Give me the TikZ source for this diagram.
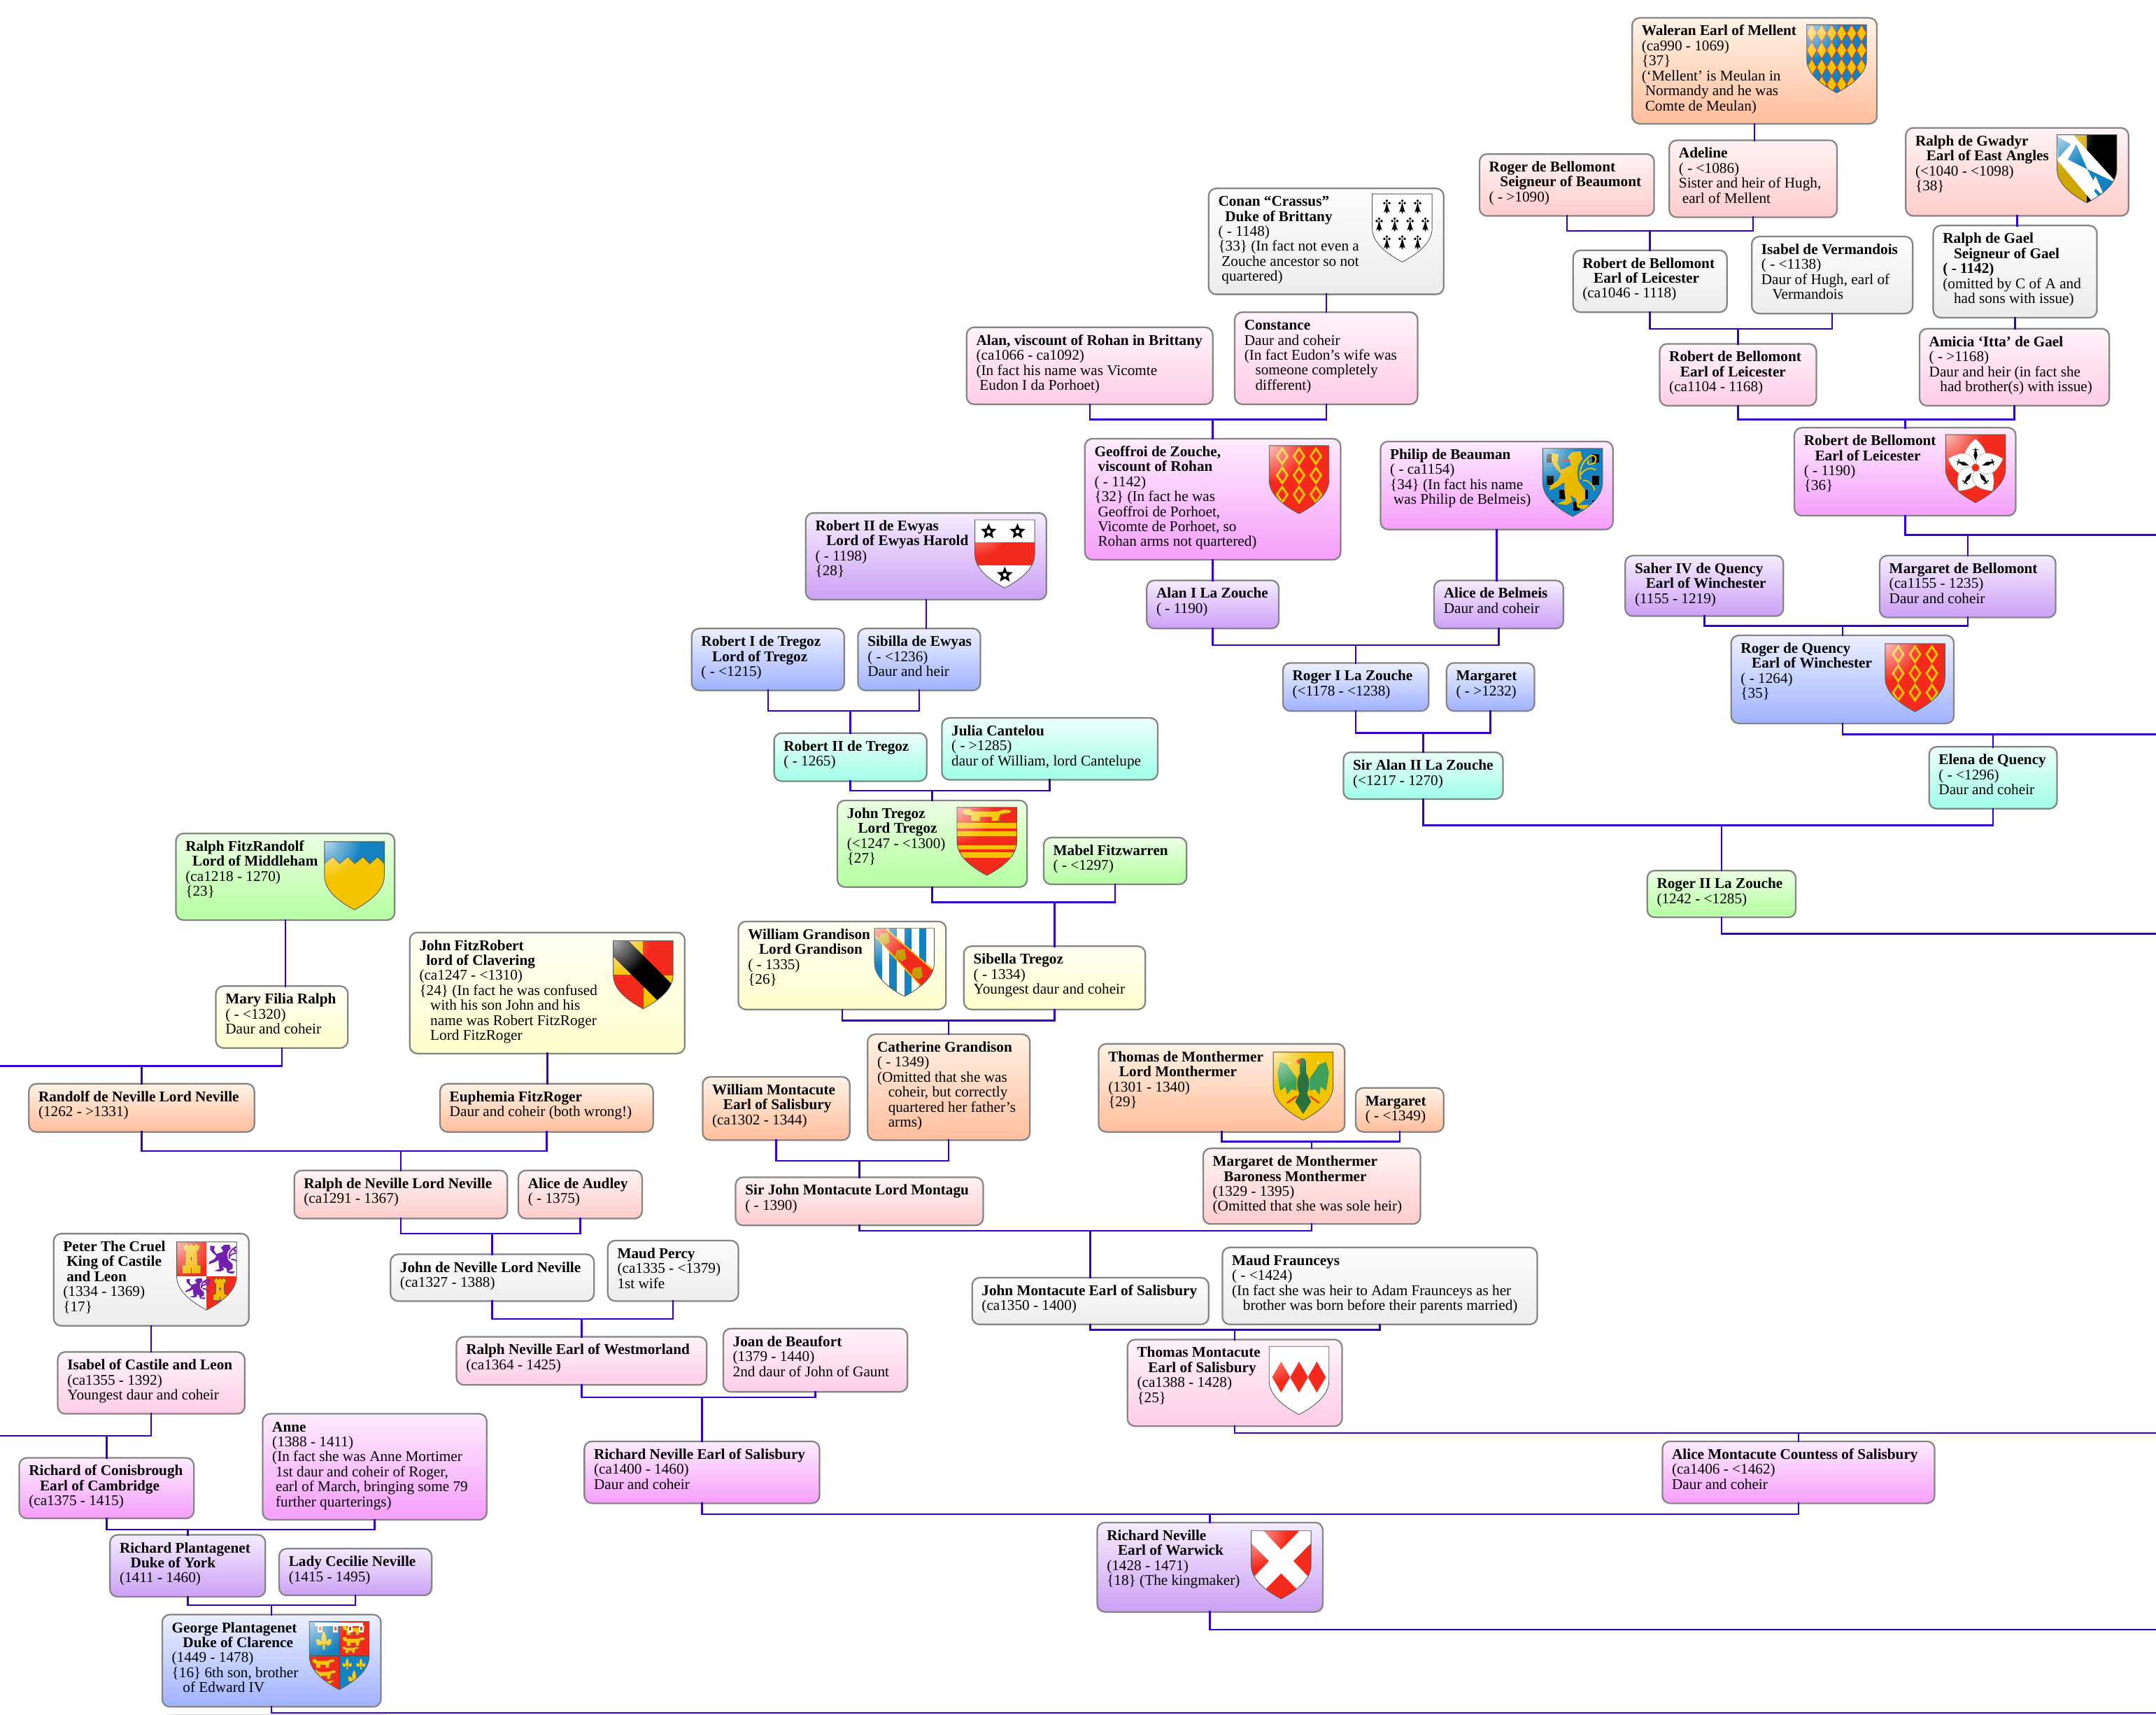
\documentclass[tikz,border=0pt]{standalone}
\usepackage{fontspec}
\setmainfont{Liberation Serif}
\usetikzlibrary{fadings}
\pgfdeclarelayer{shadowlayer}
\pgfsetlayers{shadowlayer,main}
\definecolor{lnk}{HTML}{3300CC}
\definecolor{gld}{HTML}{F5C400}
\definecolor{rd}{HTML}{F42A1C}
\definecolor{blu}{HTML}{1482C0}
\definecolor{prp}{HTML}{7A22B8}
\definecolor{grn}{HTML}{3EA05A}
\tikzfading[name=glossf, inner color=transparent!30, outer color=transparent!100]
\tikzset{
 box/.style={draw=black!48,line width=1.15pt,rounded corners=5.5pt,inner xsep=7pt,inner ysep=4pt,outer sep=0pt,
   font=\fontsize{10.8}{10.9}\selectfont,text=black},
 cOr/.style={top color=white!90!orange,bottom color={rgb,255:red,255;green,190;blue,156}},
 cPk/.style={top color={rgb,255:red,255;green,243;blue,243},bottom color={rgb,255:red,255;green,204;blue,204}},
 cRo/.style={top color={rgb,255:red,255;green,243;blue,250},bottom color={rgb,255:red,255;green,204;blue,230}},
 cGy/.style={top color={rgb,255:red,253;green,253;blue,253},bottom color={rgb,255:red,236;green,236;blue,236}},
 cMg/.style={top color={rgb,255:red,254;green,236;blue,255},bottom color={rgb,255:red,245;green,158;blue,250}},
 cPu/.style={top color={rgb,255:red,245;green,236;blue,255},bottom color={rgb,255:red,204;green,160;blue,245}},
 cBl/.style={top color={rgb,255:red,236;green,240;blue,255},bottom color={rgb,255:red,160;green,178;blue,255}},
 cCy/.style={top color={rgb,255:red,236;green,255;blue,250},bottom color={rgb,255:red,160;green,255;blue,232}},
 cGn/.style={top color={rgb,255:red,236;green,255;blue,228},bottom color={rgb,255:red,180;green,255;blue,160}},
 cYe/.style={top color={rgb,255:red,255;green,255;blue,245},bottom color={rgb,255:red,255;green,255;blue,204}},
 conn/.style={draw=lnk,line width=1.25pt,line cap=rect},
 shieldp/.style={insert path={(0,0) -- (43.5,0) -- (43.5,-25) .. controls (43.5,-36) and (32,-44) .. (21.75,-49.5) .. controls (11.5,-44) and (0,-36) .. (0,-25) -- cycle}},
}
\newcommand{\B}[1]{\textbf{#1}}
\newcommand{\ia}{\hspace*{8pt}}
\newcommand{\ib}{\hspace*{2.5pt}}
\newcommand{\person}[7]{%
 \pgfmathsetmacro\pw{#4-#2-14}\pgfmathsetmacro\ph{#5-#3-8}%
 \begin{pgfonlayer}{shadowlayer}
  \foreach \k in {0,1,2,3}{\fill[black,opacity=.09,rounded corners=6pt] (#2+4-\k,-#3-4+\k) rectangle (#4+4+\k,-#5-4-\k);}
 \end{pgfonlayer}
 \node[box,#6] (#1) at ({(#2+#4)/2},{-(#3+#5)/2}) {\parbox[c][\ph pt][t]{\pw pt}{\vspace*{1.3pt}\begin{tabular}[t]{@{}l@{}}#7\end{tabular}}};}
\newcommand{\stem}[2]{\draw[conn] (#1.south) -- (#2.north -| #1.south);}
\newcommand{\couple}[4]{\coordinate (bar#3) at (0,-#4);
 \draw[conn] (#1.south) -- (#1.south |- bar#3) -- (#2.south |- bar#3) -- (#2.south);
 \draw[conn] (#3.north |- bar#3) -- (#3.north);}
\newcommand{\offedge}[4]{\coordinate (edge#1) at (#4,-#2);
 \draw[conn] (#1.south) -- (#1.south |- edge#1) -- (edge#1);
 \draw[conn] (#3.north |- edge#1) -- (#3.north);}
\newcommand{\shield}[4][]{\begin{scope}[shift={(#2,-#3)}]
 \begin{scope}\clip[shieldp]; #4 \fill[white,path fading=glossf] (0,0) circle (27); #1 \end{scope}
 \draw[black!65,line width=.45pt,shieldp];
 \end{scope}}
\newcommand{\field}[1]{\fill[#1] (0,0) rectangle (43.5,-50);}
\newcommand{\ermspot}[2]{\begin{scope}[shift={(#1,#2)}]
 \fill[black] (0,2) circle (1); \fill[black] (-1.8,.3) circle (1); \fill[black] (1.8,.3) circle (1);
 \fill[black] (0,1) -- (1,-3) -- (2.2,-6.5) -- (.8,-5.5) -- (0,-7.5) -- (-.8,-5.5) -- (-2.2,-6.5) -- (-1,-3) -- cycle;\end{scope}}
\newcommand{\mascles}{\foreach \x in {9.5,21.75,34}{\foreach \y in {-7.7,-21.6,-35.6}{
 \draw[gld,line width=1.5pt] (\x,\y+5.6) -- (\x+3.8,\y) -- (\x,\y-5.6) -- (\x-3.8,\y) -- cycle;}}}
\newcommand{\starc}[2]{\begin{scope}[shift={(#1,#2)}]
 \fill[black] (90:6) -- (126:2.7) -- (162:6) -- (198:2.7) -- (234:6) -- (270:2.7) -- (306:6) -- (342:2.7) -- (18:6) -- (54:2.7) -- cycle;
 \fill[white] (0,0) circle (1.4);\end{scope}}
\newcommand{\lionr}[5]{\begin{scope}[shift={(#1,#2)},xscale=.169*#3,yscale=-.175*#4,shift={(-42,-40)}]
 \draw[#5,line width=1pt] (205,170) .. controls (195,130) and (215,95) .. (235,80) .. controls (250,60) and (285,70) .. (265,100) .. controls (250,110) and (225,110) .. (240,90);
 \draw[#5,line width=.9pt] (205,150) .. controls (235,105) and (270,130) .. (270,130) (215,175) .. controls (235,165) and (265,200) .. (265,215);
 \fill[#5!95!black] (80,60) -- (110,65) -- (105,100) -- (120,130) -- (165,110) -- (150,75) -- (170,55) -- (205,52) -- (212,85) -- (195,110) -- (190,140) -- (195,175) -- (225,215) -- (225,250) -- (195,275) -- (240,275) -- (225,295) -- (190,285) -- (185,250) -- (160,235) -- (170,260) -- (145,275) -- (105,270) -- (140,255) -- (135,215) -- (135,180) -- (105,200) -- (70,215) -- (75,195) -- (110,170) -- (120,145) -- (100,125) -- (80,95) -- cycle;
 \end{scope}}
\newcommand{\lionp}[4]{\begin{scope}[shift={(#1,#2)},scale=#3]
 \fill[#4!95!white,draw=black!60,line width=.15pt] (0,-1) -- (3,0) -- (5,-2) -- (15,-2) -- (19,-.5) -- (22,-1.5) -- (21,-3) -- (17,-4) -- (16,-8) -- (18,-8.5) -- (13,-9) -- (13,-6) -- (8,-6) -- (8,-8.5) -- (10,-9) -- (4,-9) -- (4,-5) -- (1,-4) -- cycle;
 \end{scope}}
\newcommand{\fleur}[3]{\begin{scope}[shift={(#1,#2)},scale=#3]
 \fill[gld!90!white] (0,8) .. controls (3,3) and (2.2,0) .. (1,-2) -- (.8,-7) -- (-.8,-7) -- (-1,-2) .. controls (-2.2,0) and (-3,3) .. (0,8) -- cycle;
 \fill[gld!90!white] (1,-2) .. controls (3,2) and (7,3) .. (6,-1) .. controls (6,-4) and (3,-4) .. (1.5,-3.5) -- cycle;
 \fill[gld!90!white] (-1,-2) .. controls (-3,2) and (-7,3) .. (-6,-1) .. controls (-6,-4) and (-3,-4) .. (-1.5,-3.5) -- cycle;
 \fill[gld!70!black] (-3,-2.6) rectangle (3,-3.6);\end{scope}}
\newcommand{\castle}[4]{\begin{scope}[shift={(#1,#2)},xscale=#3,yscale=#4]
 \fill[gld!85!orange,draw=black!70,line width=.3pt] (-7,0) -- (-5,0) -- (-5,1.2) -- (-3,1.2) -- (-3,0) -- (-1,0) -- (-1,1.2) -- (1,1.2) -- (1,0) -- (3,0) -- (3,1.2) -- (5,1.2) -- (5,0) -- (7,0) -- (6,-4) -- (4.5,-4) -- (5,-14) -- (7.5,-14) -- (7.5,-20) -- (-7.5,-20) -- (-7.5,-14) -- (-5,-14) -- (-4.5,-4) -- (-6,-4) -- cycle;
 \draw[black!70,line width=.3pt] (0,-16) -- (0,-20) (-1,-9) -- (1,-9) (0,-8) -- (0,-11);\end{scope}}
\begin{document}
\begin{tikzpicture}[x=1pt,y=1pt]
\useasboundingbox (0,0) rectangle (1568,-1246.5);
\fill[white] (0,0) rectangle (1568,-1246.5);
% --- people ---
\person{wal}{1187}{13}{1365}{90}{cOr}{\B{Waleran Earl of Mellent}\\(ca990 - 1069)\\\{37\}\\(‘Mellent’ is Meulan in\\\ib Normandy and he was\\\ib Comte de Meulan)}
\person{rog}{1076}{112}{1203}{157}{cPk}{\B{Roger de Bellomont}\\\B{\ia Seigneur of Beaumont}\\( - >1090)}
\person{ade}{1214}{102}{1336}{158}{cPk}{\B{Adeline}\\( - <1086)\\Sister and heir of Hugh,\\\ib earl of Mellent}
\person{gwa}{1386}{93}{1548}{157}{cPk}{\B{Ralph de Gwadyr}\\\B{\ia Earl of East Angles}\\(<1040 - <1098)\\\{38\}}
\person{con}{879}{137}{1050}{214}{cGy}{\B{Conan “Crassus”}\\\B{\hspace*{5pt}Duke of Brittany}\\( - 1148)\\\{33\} (In fact not even a\\\ib Zouche ancestor so not\\\ib quartered)}
\person{rbA}{1144}{182}{1256}{227}{cGy}{\B{Robert de Bellomont}\\\B{\ia Earl of Leicester}\\(ca1046 - 1118)}
\person{isv}{1274}{172}{1391}{228}{cGy}{\B{Isabel de Vermandois}\\( - <1138)\\Daur of Hugh, earl of\\\ia Vermandois}
\person{gae}{1406}{164}{1525}{231}{cGy}{\B{Ralph de Gael}\\\B{\ia Seigneur of Gael}\\\B{( - 1142)}\\(omitted by C of A and\\\ia had sons with issue)}
\person{ala}{703}{238}{882}{294}{cRo}{\B{Alan, viscount of Rohan in Brittany}\\(ca1066 - ca1092)\\(In fact his name was Vicomte\\\ib Eudon I da Porhoet)}
\person{cst}{898}{227}{1031}{294}{cRo}{\B{Constance}\\Daur and coheir\\(In fact Eudon’s wife was\\\ia someone completely\\\ia different)}
\person{rbB}{1207}{250}{1321}{295}{cRo}{\B{Robert de Bellomont}\\\B{\ia Earl of Leicester}\\(ca1104 - 1168)}
\person{ami}{1396}{239}{1534}{295}{cRo}{\B{Amicia ‘Itta’ de Gael}\\( - >1168)\\Daur and heir (in fact she\\\ia had brother(s) with issue)}
\person{geo}{789}{319}{975}{407}{cMg}{\B{Geoffroi de Zouche,}\\\B{\ib viscount of Rohan}\\( - 1142)\\\{32\} (In fact he was\\\ib Geoffroi de Porhoet,\\\ib Vicomte de Porhoet, so\\\ib Rohan arms not quartered)}
\person{phi}{1004}{321}{1173}{385}{cMg}{\B{Philip de Beauman}\\( - ca1154)\\\{34\} (In fact his name\\\ib was Philip de Belmeis)}
\person{rbC}{1305}{311}{1466}{375}{cMg}{\B{Robert de Bellomont}\\\B{\ia Earl of Leicester}\\( - 1190)\\\{36\}}
\person{ewy}{586}{373}{761}{436}{cPu}{\B{Robert II de Ewyas}\\\B{\ia Lord of Ewyas Harold}\\( - 1198)\\\{28\}}
\person{alz}{834}{422}{930}{457}{cPu}{\B{Alan I La Zouche}\\( - 1190)}
\person{alb}{1043}{422}{1137}{457}{cPu}{\B{Alice de Belmeis}\\Daur and coheir}
\person{sah}{1182}{404}{1297}{448}{cPu}{\B{Saher IV de Quency}\\\B{\ia Earl of Winchester}\\(1155 - 1219)}
\person{mab}{1367}{404}{1495}{449}{cPu}{\B{Margaret de Bellomont}\\(ca1155 - 1235)\\Daur and coheir}
\person{rtA}{503}{457}{614}{502}{cBl}{\B{Robert I de Tregoz}\\\B{\ia Lord of Tregoz}\\( - <1215)}
\person{sib}{624}{457}{713}{502}{cBl}{\B{Sibilla de Ewyas}\\( - <1236)\\Daur and heir}
\person{rzA}{933}{482}{1039}{517}{cBl}{\B{Roger I La Zouche}\\(<1178 - <1238)}
\person{mzo}{1052}{482}{1116}{517}{cBl}{\B{Margaret}\\( - >1232)}
\person{rqu}{1259}{462}{1421}{526}{cBl}{\B{Roger de Quency}\\\B{\ia Earl of Winchester}\\( - 1264)\\\{35\}}
\person{rtB}{563}{533}{674}{568}{cCy}{\B{Robert II de Tregoz}\\( - 1265)}
\person{jul}{685}{522}{842}{567}{cCy}{\B{Julia Cantelou}\\( - >1285)\\daur of William, lord Cantelupe}
\person{saz}{977}{547}{1093}{581}{cCy}{\B{Sir Alan II La Zouche}\\(<1217 - 1270)}
\person{ele}{1403}{543}{1496}{588}{cCy}{\B{Elena de Quency}\\( - <1296)\\Daur and coheir}
\person{jtr}{609}{582}{747}{645}{cGn}{\B{John Tregoz}\\\B{\ia Lord Tregoz}\\(<1247 - <1300)\\\{27\}}
\person{mfw}{759}{609}{863}{643}{cGn}{\B{Mabel Fitzwarren}\\( - <1297)}
\person{rfr}{128}{606}{287}{669}{cGn}{\B{Ralph FitzRandolf}\\\B{\hspace*{5pt}Lord of Middleham}\\(ca1218 - 1270)\\\{23\}}
\person{rzB}{1198}{633}{1306}{667}{cGn}{\B{Roger II La Zouche}\\(1242 - <1285)}
\person{wgr}{537}{670}{688}{734}{cYe}{\B{William Grandison}\\\B{\ia Lord Grandison}\\( - 1335)\\\{26\}}
\person{sbt}{701}{688}{833}{734}{cYe}{\B{Sibella Tregoz}\\( - 1334)\\Youngest daur and coheir}
\person{mry}{157}{717}{253}{762}{cYe}{\B{Mary Filia Ralph}\\( - <1320)\\Daur and coheir}
\person{jfr}{298}{678}{498}{766}{cYe}{\B{John FitzRobert}\\\B{\hspace*{5pt}lord of Clavering}\\(ca1247 - <1310)\\\{24\} (In fact he was confused\\\ia with his son John and his\\\ia name was Robert FitzRoger\\\ia Lord FitzRoger}
\person{thm}{799}{759}{978}{823}{cOr}{\B{Thomas de Monthermer}\\\B{\ia Lord Monthermer}\\(1301 - 1340)\\\{29\}}
\person{mgt}{986}{791}{1050}{823}{cOr}{\B{Margaret}\\( - <1349)}
\person{wmo}{511}{783}{618}{829}{cOr}{\B{William Montacute}\\\B{\ia Earl of Salisbury}\\(ca1302 - 1344)}
\person{cat}{631}{752}{749}{829}{cOr}{\B{Catherine Grandison}\\( - 1349)\\(Omitted that she was\\\ia coheir, but correctly\\\ia quartered her father’s\\\ia arms)}
\person{ran}{21}{788}{185}{823}{cOr}{\B{Randolf de Neville Lord Neville}\\(1262 - >1331)}
\person{eup}{320}{788}{475}{823}{cOr}{\B{Euphemia FitzRoger}\\Daur and coheir (both wrong!)}
\person{mdm}{875}{835}{1033}{890}{cPk}{\B{Margaret de Monthermer}\\\B{\ia Baroness Monthermer}\\(1329 - 1395)\\(Omitted that she was sole heir)}
\person{rnv}{214}{851}{369}{886}{cPk}{\B{Ralph de Neville Lord Neville}\\(ca1291 - 1367)}
\person{aau}{377}{851}{467}{886}{cPk}{\B{Alice de Audley}\\( - 1375)}
\person{sjm}{535}{856}{715}{891}{cPk}{\B{Sir John Montacute Lord Montagu}\\( - 1390)}
\person{pet}{39}{897}{181}{964}{cGy}{\B{Peter The Cruel}\\\B{\ib King of Castile}\\\B{\ib and Leon}\\(1334 - 1369)\\\{17\}}
\person{jnv}{284}{912}{432}{946}{cGy}{\B{John de Neville Lord Neville}\\(ca1327 - 1388)}
\person{mpe}{442}{902}{537}{946}{cGy}{\B{Maud Percy}\\(ca1335 - <1379)\\1st wife}
\person{jmo}{707}{929}{879}{963}{cGy}{\B{John Montacute Earl of Salisbury}\\(ca1350 - 1400)}
\person{mfr}{889}{907}{1118}{963}{cGy}{\B{Maud Fraunceys}\\( - <1424)\\(In fact she was heir to Adam Fraunceys as her\\\ia brother was born before their parents married)}
\person{isc}{42}{983}{178}{1028}{cRo}{\B{Isabel of Castile and Leon}\\(ca1355 - 1392)\\Youngest daur and coheir}
\person{rnw}{332}{972}{514}{1007}{cRo}{\B{Ralph Neville Earl of Westmorland}\\(ca1364 - 1425)}
\person{joa}{526}{966}{660}{1012}{cRo}{\B{Joan de Beaufort}\\(1379 - 1440)\\2nd daur of John of Gaunt}
\person{tmo}{820}{974}{976}{1037}{cRo}{\B{Thomas Montacute}\\\B{\ia Earl of Salisbury}\\(ca1388 - 1428)\\\{25\}}
\person{ann}{191}{1028}{354}{1105}{cMg}{\B{Anne}\\(1388 - 1411)\\(In fact she was Anne Mortimer\\\ib 1st daur and coheir of Roger,\\\ib earl of March, bringing some 79\\\ib further quarterings)}
\person{rco}{14}{1060}{141}{1104}{cMg}{\B{Richard of Conisbrough}\\\B{\ia Earl of Cambridge}\\(ca1375 - 1415)}
\person{rns}{425}{1048}{596}{1093}{cMg}{\B{Richard Neville Earl of Salisbury}\\(ca1400 - 1460)\\Daur and coheir}
\person{amo}{1209}{1048}{1407}{1093}{cMg}{\B{Alice Montacute Countess of Salisbury}\\(ca1406 - <1462)\\Daur and coheir}
\person{war}{798}{1107}{962}{1172}{cPu}{\B{Richard Neville}\\\B{\ia Earl of Warwick}\\(1428 - 1471)\\\{18\} (The kingmaker)}
\person{rpl}{80}{1116}{193}{1161}{cPu}{\B{Richard Plantagenet}\\\B{\ia Duke of York}\\(1411 - 1460)}
\person{lcn}{203}{1126}{314}{1160}{cPu}{\B{Lady Cecilie Neville}\\(1415 - 1495)}
\person{gpl}{118}{1174}{277}{1241}{cBl}{\B{George Plantagenet}\\\B{\ia Duke of Clarence}\\(1449 - 1478)\\\{16\} 6th son, brother\\\ia of Edward IV}
% --- connectors ---
\stem{wal}{ade}
\stem{gwa}{gae}
\stem{con}{cst}
\stem{gae}{ami}
\stem{geo}{alz}
\stem{phi}{alb}
\stem{ewy}{sib}
\stem{rfr}{mry}
\stem{jfr}{eup}
\stem{pet}{isc}
\couple{rog}{ade}{rbA}{168}
\couple{rbA}{isv}{rbB}{239}
\couple{ala}{cst}{geo}{305}
\couple{rbB}{ami}{rbC}{305}
\couple{sah}{mab}{rqu}{455}
\couple{rtA}{sib}{rtB}{517}
\couple{alz}{alb}{rzA}{469}
\couple{rzA}{mzo}{saz}{533}
\couple{saz}{ele}{rzB}{600}
\couple{rtB}{jul}{jtr}{575}
\couple{jtr}{mfw}{sbt}{656}
\couple{wgr}{sbt}{cat}{742}
\couple{thm}{mgt}{mdm}{830}
\couple{wmo}{cat}{sjm}{844}
\couple{ran}{eup}{rnv}{837}
\couple{rnv}{aau}{jnv}{897}
\couple{jnv}{mpe}{rnw}{959}
\couple{sjm}{mdm}{jmo}{895}
\couple{jmo}{mfr}{tmo}{967}
\couple{rnw}{joa}{rns}{1016}
\couple{rns}{amo}{war}{1101}
\couple{rco}{ann}{rpl}{1112}
\couple{rpl}{lcn}{gpl}{1167}
\offedge{rbC}{389}{mab}{1568}
\offedge{rqu}{534}{ele}{1568}
\offedge{mry}{775}{ran}{0}
\offedge{isc}{1044}{rco}{0}
\offedge{tmo}{1042}{amo}{1568}
\coordinate (edgerzB) at (1568,-679);
\draw[conn] (rzB.south) -- (rzB.south |- edgerzB) -- (edgerzB);
\coordinate (edgewar) at (1568,-1185);
\draw[conn] (war.south) -- (war.south |- edgewar) -- (edgewar);
\coordinate (edgegpl) at (1568,-1245.5);
\draw[conn] (gpl.south) -- (gpl.south |- edgegpl) -- (edgegpl);
% --- shields ---
\shield{1314}{18}{\field{blu}
 \foreach \i in {0,...,5}{\foreach \j in {0,...,4}{
  \fill[gld,draw=rd,line width=.4pt] (\i*7.25+3.6,-\j*12.4) -- (\i*7.25+7.25,-\j*12.4-6.2) -- (\i*7.25+3.6,-\j*12.4-12.4) -- (\i*7.25,-\j*12.4-6.2) -- cycle;}}}
\shield{1496}{98}{\fill[gld!85!black] (0,0) rectangle (21.75,-50); \fill[black] (21.75,0) rectangle (43.5,-50);
 \fill[white] (11.6,0) -- (43.5,-35) -- (29.3,-53) -- (0,-18) -- (0,0) -- cycle;
 \fill[blu] (0,-1) -- (10,-7) -- (1,-17) -- cycle;
 \fill[blu] (14,-7) -- (22,-25) -- (8,-18) -- cycle;
 \fill[blu] (22,-25) -- (41,-34) -- (31,-42) -- cycle;
 \fill[blu] (31,-34) -- (43.5,-36) -- (33,-48) -- (27,-41)-- cycle;
 \fill[white] (28,-30) -- (35,-46) -- (25,-36) -- cycle;}
\shield[\foreach \x in {10.6,21.8,33}{\ermspot{\x}{-7}\ermspot{\x}{-33}}
 \foreach \x in {5,16.3,27.5,38.6}{\ermspot{\x}{-20}}]{998}{141}{\field{white}}
\shield{923}{324}{\field{rd}\mascles}
\shield{1371}{468}{\field{rd}\mascles}
\shield{1122}{326}{\field{blu}
 \foreach \x/\y in {3/-4,36/-4,3/-20,36/-20,12/-30,28/-30,3/-38,22/-39,36/-38}{\fill[black] (\x,\y) rectangle (\x+5,\y-6.5);}
 \lionr{0}{0}{1}{1}{gld}
 \draw[rd,line width=1pt] (14,-6.5) -- (14.5,-9) -- (20,-9);}
\shield{1415}{316}{\field{rd}
 \begin{scope}[shift={(21.75,-24)}]
 \foreach \a in {0,72,144,216,288}{\begin{scope}[rotate=\a]
  \fill[white,draw=black!50,line width=.2pt] (0,0) .. controls (-12,5) and (-9,13) .. (0,21) .. controls (9,13) and (11,5) .. (0,0) -- cycle;
  \fill[black] (0,5) -- (1.4,9) -- (0,15) -- (-1.4,9) -- cycle;
  \fill[black] (-2.2,13.5) rectangle (2.2,12.8);
 \end{scope}}
 \fill[rd] (0,0) circle (2.8);
 \end{scope}}
\shield[\starc{10}{-8.5}\starc{31}{-8.5}\starc{21.75}{-40}]{709}{378}{\field{white}
 \fill[rd] (0,-16.5) rectangle (43.5,-33);}
\shield{696}{587}{\field{rd}
 \fill[gld] (0,-11.5) rectangle (43.5,-15.5);
 \fill[gld] (0,-17.5) rectangle (43.5,-21);
 \fill[gld] (0,-27.5) rectangle (43.5,-30.5);
 \fill[gld] (0,-32.5) rectangle (43.5,-36.5);
 \begin{scope}[xscale=1.65]\lionp{2.2}{-1}{1.0}{gld}\end{scope}}
\shield{236}{612}{\field{gld}
 \fill[blu,draw=black!70,line width=.3pt] (0,0) -- (43.5,0) -- (43.5,-16) -- (38.5,-11) -- (33,-16) -- (28,-11) -- (22,-16) -- (17,-11) -- (11,-16) -- (6,-11) -- (0,-16) -- cycle;}
\shield{446}{684}{\field{gld}
 \fill[rd] (21.75,0) rectangle (43.5,-25); \fill[rd] (0,-25) rectangle (21.75,-50);
 \draw[black!50!gld,line width=.3pt] (21.75,0) -- (21.75,-50) (0,-25) -- (43.5,-25);
 \fill[black] (11,0) -- (43.5,-32.5) -- (43.5,-36) -- (32.8,-44) -- (0,-11.5) -- (0,0) -- cycle;}
\shield{636}{675}{\field{white}
 \foreach \x in {0,10.8,21.6,32.4}{\fill[blu] (\x,0) rectangle (\x+5.4,-50);}
 \fill[rd,draw=gld,line width=.9pt] (7.7,0) -- (43.5,-31) -- (43.5,-36) -- (35.5,-44) -- (0,-5) -- (0,0) -- cycle;
 \foreach \x/\y in {7/-7,19/-19,31/-32}{\fill[gld!80!black] (\x-3,\y+3) -- (\x+3,\y+4) -- (\x+4,\y-3) -- (\x+1,\y-5) -- (\x-4,\y-2) -- cycle;}}
\shield{926}{765}{\field{gld}
 \fill[grn] (17,-19) -- (10,-9) -- (5,-7) -- (3,-15) -- (5,-28) -- (9,-25) -- (10,-31) -- (13,-27) -- (17,-28) -- cycle;
 \fill[grn] (26.5,-19) -- (33.5,-9) -- (38.5,-7) -- (40.5,-15) -- (38.5,-28) -- (34.5,-25) -- (33.5,-31) -- (30.5,-27) -- (26.5,-28) -- cycle;
 \fill[grn!70!black] (21.75,-23) ellipse (4.3 and 9);
 \fill[grn!70!black] (21,-7) circle (2.8); \fill[grn!70!black] (19.5,-7) rectangle (24,-15);
 \fill[grn!70!black] (21.75,-45) -- (16,-36) -- (19,-30) -- (24.5,-30) -- (27.5,-36) -- cycle;
 \fill[rd] (18.5,-6.8) circle (1.5);
 \fill[white] (11.5,-8) circle (.8); \fill[white] (32.5,-8) circle (.8);
 \draw[rd,line width=1.1pt] (17,-32) -- (10,-37) (26.5,-32) -- (33.5,-37);}
\shield{128.5}{903}{\field{white}
 \fill[rd] (0,0) rectangle (21.75,-25); \fill[rd] (21.75,-25) rectangle (43.5,-50);
 \castle{10.7}{-2.4}{.9}{1.03}
 \lionr{20}{-.9}{.67}{.5}{prp}
 \lionr{3.8}{-25.6}{.52}{.36}{prp}
 \castle{31.5}{-27}{.65}{.78}}
\shield{225}{1179}{\field{blu}
 \fill[rd] (21.75,0) rectangle (43.5,-25); \fill[rd] (0,-25) rectangle (21.75,-50);
 \draw[black!70,line width=.3pt] (21.75,0) -- (21.75,-50) (0,-25) -- (43.5,-25);
 \fleur{10.5}{-14}{.9}
 \lionp{24}{-3}{.75}{gld} \lionp{24}{-11}{.75}{gld} \lionp{24}{-18}{.55}{gld}
 \lionp{2}{-27}{.75}{gld} \lionp{3}{-35}{.75}{gld} \lionp{9}{-42.5}{.4}{gld}
 \fleur{27.5}{-31}{.55}\fleur{37.5}{-31}{.55}\fleur{32.5}{-41}{.7}
 \fill[white] (4,-1) rectangle (39,-3.5);
 \foreach \x in {6,17,28,36}{\fill[white] (\x,-3) rectangle (\x+3.5,-8); \fill[rd] (\x+1,-4) rectangle (\x+2.5,-6.5);}}
\shield{910}{1113}{\field{white}
 \fill[rd] (8.9,0) -- (35,0) -- (21.75,-13.7) -- cycle;
 \fill[rd] (43.5,-9) -- (30.7,-22) -- (43.5,-35.5) -- cycle;
 \fill[rd] (0,-9) -- (12.8,-22) -- (0,-35.5) -- cycle;
 \fill[rd] (21.75,-31) -- (33.5,-43) -- (21.75,-51) -- (10,-43) -- cycle;}
\shield{923}{979}{\field{white}
 \foreach \x in {8.7,21.75,34.7}{\fill[rd] (\x,-11) -- (\x+6.5,-22.3) -- (\x,-33.5) -- (\x-6.5,-22.3) -- cycle;}}
\end{tikzpicture}
\end{document}
